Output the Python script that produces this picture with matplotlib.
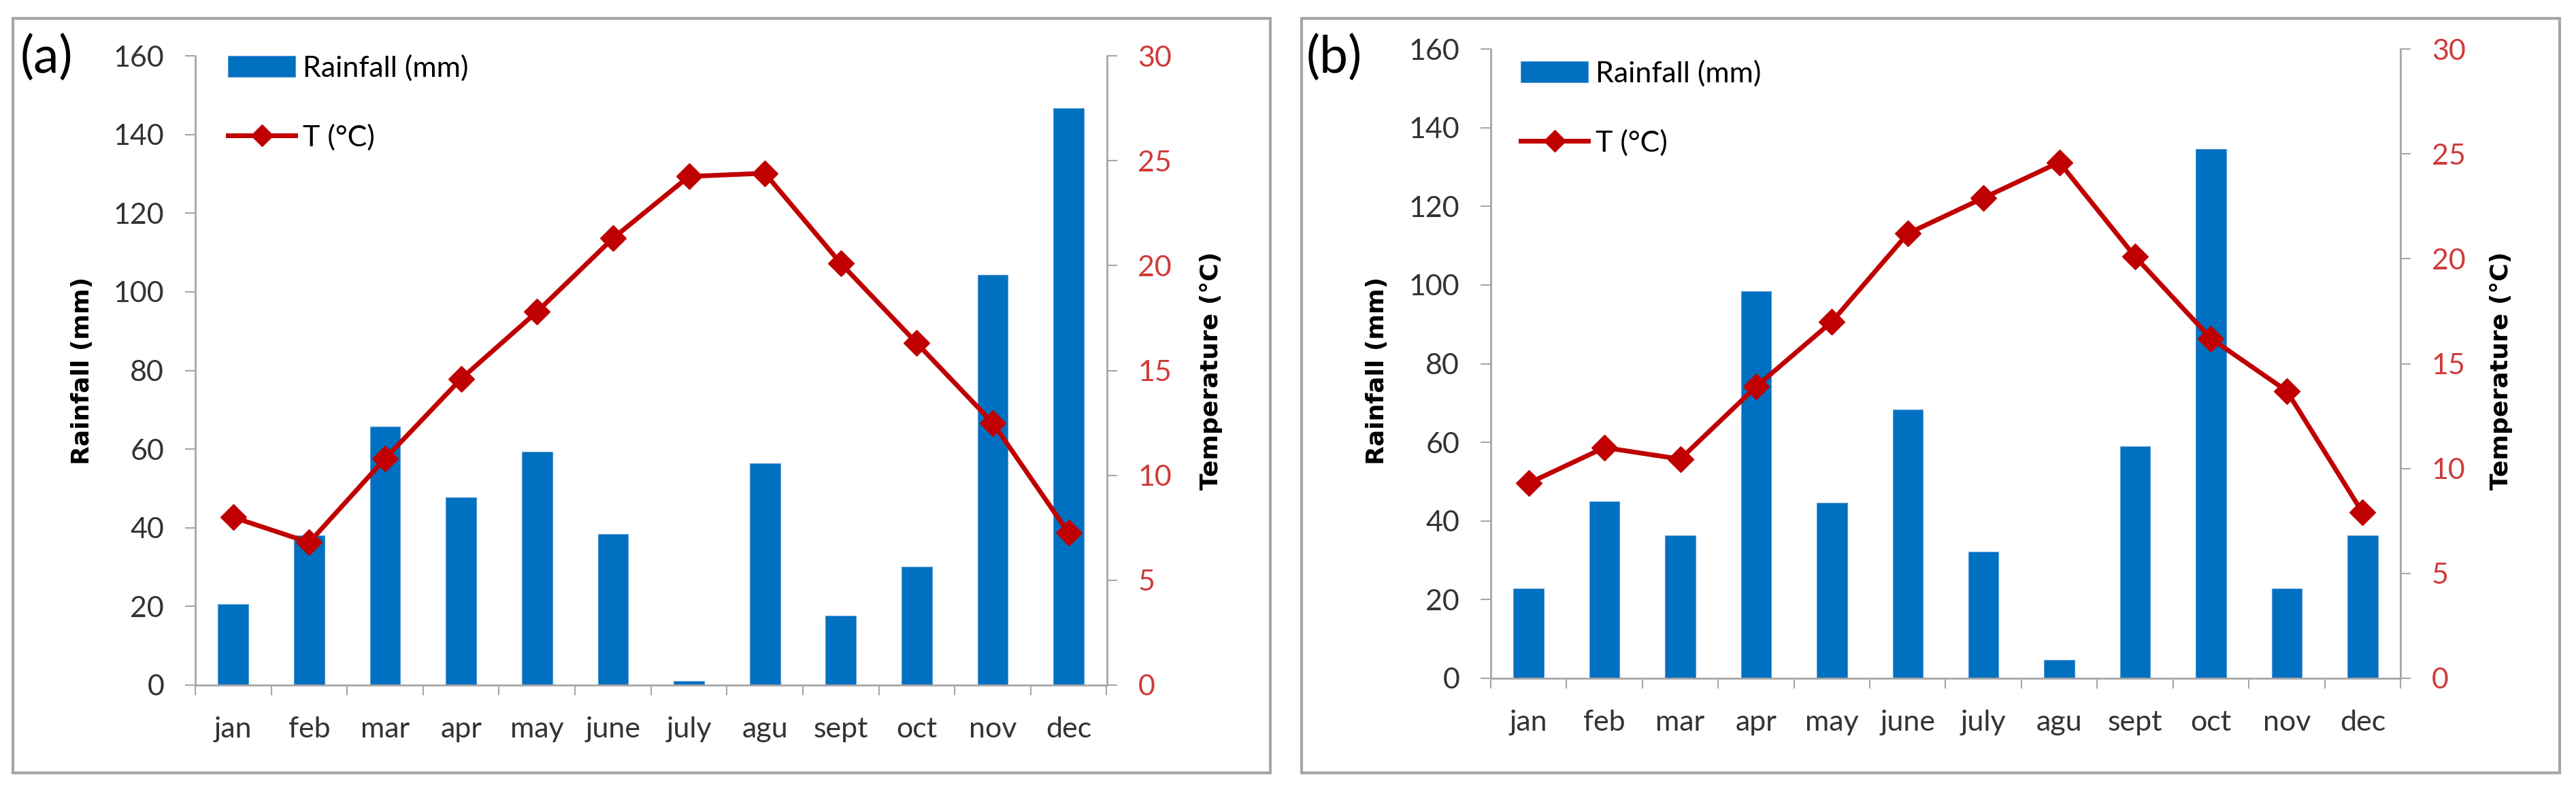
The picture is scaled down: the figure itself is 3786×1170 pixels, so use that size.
import matplotlib
matplotlib.use("Agg")
import matplotlib.pyplot as plt
from matplotlib.patches import Rectangle
from matplotlib.lines import Line2D
import numpy as np

# datos
months = ['jan', 'feb', 'mar', 'apr', 'may', 'june', 'july', 'agu', 'sept', 'oct', 'nov', 'dec']
rain_a = [20.5, 38.0, 65.7, 47.8, 59.4, 38.4, 1.1, 56.4, 17.7, 30.1, 104.3, 146.6]
temp_a = [8.0, 6.8, 10.8, 14.6, 17.8, 21.3, 24.25, 24.4, 20.1, 16.3, 12.5, 7.25]
rain_b = [22.8, 44.9, 36.4, 98.5, 44.7, 68.4, 32.2, 4.7, 59.0, 134.6, 22.8, 36.4]
temp_b = [9.3, 11.0, 10.45, 13.9, 17.0, 21.2, 22.9, 24.6, 20.1, 16.2, 13.7, 7.9]
panel_labels = ['(a)', '(b)']
rain_ticks = [0, 20, 40, 60, 80, 100, 120, 140, 160]
temp_ticks = [0, 5, 10, 15, 20, 25, 30]

BLUE = '#0070C0'
RED = '#C00000'
RED_TXT = '#D03A3A'
GRAY = '#A6A6A6'
TXT = '#333333'
TICK_FONT = ['Lato', 'DejaVu Sans']
LABEL_FONT = ['DejaVu Sans']

W, H = 3787, 1170
fig = plt.figure(figsize=(W / 100, H / 100), dpi=100)


def fx(px):
    return px / W


def fy(py):
    return 1 - py / H


def draw_panel(ax_box, rain, temp, plabel, plabel_xy, leg_xy, rlabel_x, tlabel_x, frame):
    # marco gris del panel
    x0, y0, x1, y1 = frame
    fig.patches.append(Rectangle((fx(x0), fy(y1)), fx(x1 - x0), (y1 - y0) / H,
                                 transform=fig.transFigure, fill=False,
                                 edgecolor=GRAY, linewidth=3))

    ax = fig.add_axes(ax_box)
    x = np.arange(len(months))
    ax.bar(x, rain, width=0.4, color=BLUE, edgecolor='#5B9BD5', linewidth=0.8, zorder=2)
    ax.set_xlim(-0.5, len(months) - 0.5)
    ax.set_ylim(0, 160)
    ax.set_yticks(rain_ticks)
    ax.set_xticks(np.arange(-0.5, len(months), 1.0))
    ax.set_xticklabels([])
    ax.set_xticks(x, minor=True)
    ax.set_xticklabels(months, minor=True, fontsize=31, family=TICK_FONT, color=TXT)
    ax.tick_params(axis='x', which='major', length=11, width=1.5, color=GRAY, direction='out')
    ax.tick_params(axis='x', which='minor', length=0, pad=33)
    ax.tick_params(axis='y', length=11, width=1.5, color=GRAY, pad=22, labelsize=31,
                   labelcolor=TXT)
    for lab in ax.get_yticklabels():
        lab.set_family(TICK_FONT)
    for s in ['top', 'right']:
        ax.spines[s].set_visible(False)
    for s in ['left', 'bottom']:
        ax.spines[s].set_color(GRAY)
        ax.spines[s].set_linewidth(2)

    ax2 = ax.twinx()
    ax2.plot(x, temp, color=RED, linewidth=5, marker='D', markersize=19,
             markerfacecolor=RED, markeredgecolor=RED, zorder=3)
    ax2.set_ylim(0, 30)
    ax2.set_yticks(temp_ticks)
    ax2.tick_params(axis='y', length=11, width=1.5, color=GRAY, pad=22, labelsize=31,
                    labelcolor=RED_TXT)
    for lab in ax2.get_yticklabels():
        lab.set_family(TICK_FONT)
    for s in ['top', 'left', 'bottom']:
        ax2.spines[s].set_visible(False)
    ax2.spines['right'].set_color(GRAY)
    ax2.spines['right'].set_linewidth(2)

    # titulos de ejes (posicion fija en la figura)
    fig.text(fx(rlabel_x), fy(545), 'Rainfall (mm)', rotation=90, ha='center', va='center',
             fontsize=26, fontweight='bold', family=LABEL_FONT, color='black')
    fig.text(fx(tlabel_x), fy(545), 'Temperature (°C)', rotation=90, ha='center', va='center',
             fontsize=26, fontweight='bold', family=LABEL_FONT, color='black')

    fig.text(fx(plabel_xy[0]), fy(plabel_xy[1]), plabel, ha='center', va='center',
             fontsize=54, family=TICK_FONT, color='black')

    handles = [Rectangle((0, 0), 1, 1, facecolor=BLUE, edgecolor='#5B9BD5', linewidth=0.8),
               Line2D([], [], color=RED, linewidth=5, marker='D', markersize=16)]
    ax2.legend(handles, ['Rainfall (mm)', 'T (°C)'], loc='upper left',
               bbox_to_anchor=(fx(leg_xy[0]), fy(leg_xy[1])), bbox_transform=fig.transFigure,
               frameon=False, prop={'family': TICK_FONT, 'size': 31},
               handlelength=2.3, handleheight=0.75, handletextpad=0.25,
               labelspacing=1.45, borderpad=0, borderaxespad=0)
    return ax, ax2


draw_panel([fx(287), fy(1007), fx(1626.5 - 287), (1007 - 82) / H], rain_a, temp_a,
           panel_labels[0], (68, 85), (335, 80), 121, 1780, (19, 27, 1867, 1136))
draw_panel([fx(2191), fy(997), fx(3528 - 2191), (997 - 72) / H], rain_b, temp_b,
           panel_labels[1], (1961, 85), (2235, 88), 2024, 3676, (1913, 27, 3762, 1136))

fig.savefig('out.png', dpi=100, facecolor='white')
